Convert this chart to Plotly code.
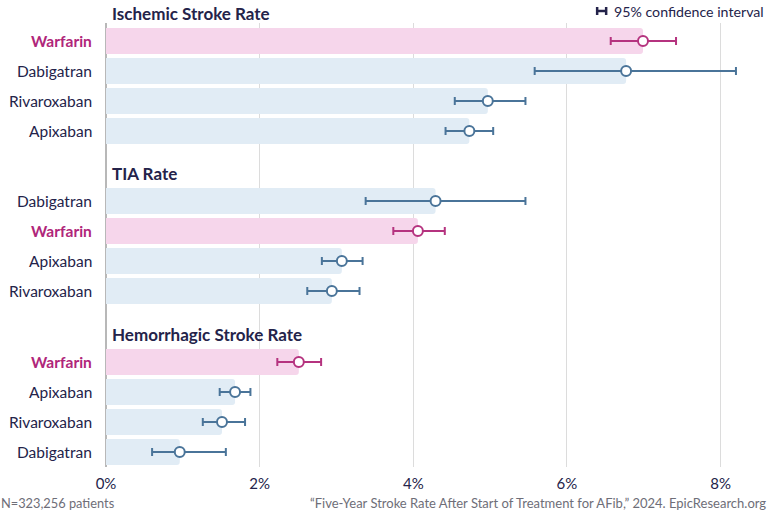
import plotly.graph_objects as go

groups = ["Ischemic Stroke Rate", "TIA Rate", "Hemorrhagic Stroke Rate"]
drugs = [
    ["Warfarin", "Dabigatran", "Rivaroxaban", "Apixaban"],
    ["Dabigatran", "Warfarin", "Apixaban", "Rivaroxaban"],
    ["Warfarin", "Apixaban", "Rivaroxaban", "Dabigatran"],
]
rates = [
    [6.99, 6.77, 4.97, 4.73],
    [4.29, 4.06, 3.07, 2.94],
    [2.51, 1.68, 1.51, 0.96],
]
ci_low = [
    [6.57, 5.58, 4.54, 4.42],
    [3.38, 3.74, 2.81, 2.62],
    [2.23, 1.48, 1.26, 0.60],
]
ci_high = [
    [7.42, 8.20, 5.46, 5.04],
    [5.46, 4.41, 3.34, 3.30],
    [2.80, 1.88, 1.81, 1.56],
]
xticks = [0, 2, 4, 6, 8]
xticklabels = ["0%", "2%", "4%", "6%", "8%"]

PINK_BAR = "#f6d6eb"
BLUE_BAR = "#e1ecf5"
MAG = "#b5337f"
STEEL = "#4a7499"
NAVY = "#24234a"
FONT = "Lato"

group_offsets = [0.0, 5.333, 10.7]
Y_TOP, Y_BOT = -0.6, 14.2

ys, xs, names, lo, hi = [], [], [], [], []
for g, off in enumerate(group_offsets):
    for i, d in enumerate(drugs[g]):
        ys.append(off + i)
        xs.append(rates[g][i])
        names.append(d)
        lo.append(ci_low[g][i])
        hi.append(ci_high[g][i])

fig = go.Figure()
fig.add_trace(go.Bar(
    x=xs, y=ys, orientation="h", width=0.87,
    marker=dict(color=[PINK_BAR if n == "Warfarin" else BLUE_BAR for n in names], line=dict(width=0)),
    hoverinfo="skip", showlegend=False,
))
for is_w, col in [(True, MAG), (False, STEEL)]:
    idx = [k for k, n in enumerate(names) if (n == "Warfarin") == is_w]
    fig.add_trace(go.Scatter(
        x=[xs[k] for k in idx], y=[ys[k] for k in idx], mode="markers",
        marker=dict(symbol="circle", size=10, color="white", line=dict(color=col, width=2)),
        error_x=dict(type="data", symmetric=False,
                     array=[hi[k] - xs[k] for k in idx],
                     arrayminus=[xs[k] - lo[k] for k in idx],
                     color=col, thickness=2, width=4),
        showlegend=False, hoverinfo="skip",
    ))

# y labels
for k, n in enumerate(names):
    if n == "Warfarin":
        txt = f"<b>{n}</b>"
        c = "#b0267a"
    else:
        txt = n
        c = NAVY
    fig.add_annotation(x=0, xref="paper", y=ys[k], yref="y", text=txt, showarrow=False,
                       xanchor="right", xshift=-12, font=dict(family=FONT, size=15.5, color=c))
# group titles (paper coords so they are never hidden)
for g, off in enumerate(group_offsets):
    yp = (Y_BOT - (off - 0.9)) / (Y_BOT - Y_TOP)
    fig.add_annotation(x=0, xref="paper", y=yp, yref="paper", text=f"<b>{groups[g]}</b>",
                       showarrow=False, xanchor="left", yanchor="middle", xshift=4,
                       font=dict(family=FONT, size=17, color=NAVY))

# legend for CI
fig.add_annotation(x=1, xref="paper", y=(467 - 11) / 444, yref="paper", text="95% confidence interval",
                   showarrow=False, xanchor="right", yanchor="middle", xshift=7,
                   font=dict(family=FONT, size=14.2, color=NAVY))
lx0, lx1 = (597 - 106) / 652.8, (606 - 106) / 652.8
ly = (467 - 11) / 444
cap = 4 / 444
fig.add_shape(type="line", xref="paper", yref="paper", x0=lx0, x1=lx1, y0=ly, y1=ly,
              line=dict(color=NAVY, width=2.5))
for xx in (lx0, lx1):
    fig.add_shape(type="line", xref="paper", yref="paper", x0=xx, x1=xx, y0=ly - cap, y1=ly + cap,
                  line=dict(color=NAVY, width=2.5))

# footer
fig.add_annotation(x=0, xref="paper", y=-0.08, yref="paper", text="N=323,256 patients",
                   showarrow=False, xanchor="left", yanchor="middle", xshift=-107,
                   font=dict(family=FONT, size=12.8, color="#6e6e78"))
fig.add_annotation(x=1, xref="paper", y=-0.08, yref="paper",
                   text="“Five-Year Stroke Rate After Start of Treatment for AFib,” 2024. EpicResearch.org",
                   showarrow=False, xanchor="right", yanchor="middle", xshift=9,
                   font=dict(family=FONT, size=13, color="#6e6e78"))

fig.update_layout(
    width=768, height=512,
    margin=dict(l=106, r=9, t=23, b=45),
    paper_bgcolor="white", plot_bgcolor="white",
    barcornerradius=3,
    xaxis=dict(range=[0, 8.5], tickvals=xticks, ticktext=xticklabels,
               showgrid=True, gridcolor="#dcdcdc", gridwidth=1,
               zeroline=True, zerolinecolor="#b8b8b8", zerolinewidth=1.5,
               showline=False, ticks="", ticklabelstandoff=6,
               tickfont=dict(family=FONT, size=15, color=NAVY)),
    yaxis=dict(range=[Y_BOT, Y_TOP], showticklabels=False, showgrid=False, zeroline=False,
               showline=False, ticks=""),
    font=dict(family=FONT),
)
fig.write_html("out.html")
